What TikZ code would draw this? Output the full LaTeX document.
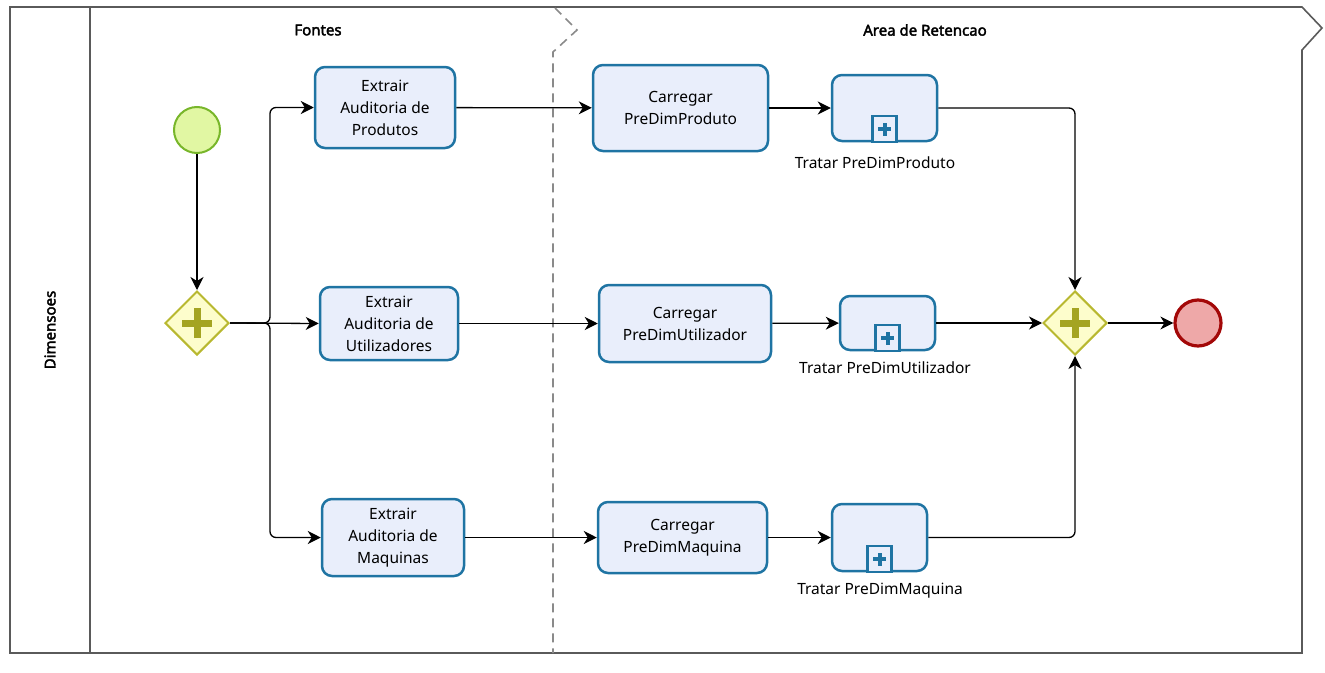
\documentclass[tikz,border=0pt]{standalone}
\usepackage{fontspec}
\setmainfont{Noto Sans}[AutoFakeBold=2.5]
\usetikzlibrary{arrows.meta,shapes.geometric}
\definecolor{taskblue}{HTML}{1F74A3}
\definecolor{taskfill}{HTML}{E9EEFB}
\definecolor{startfill}{HTML}{E1F7A3}
\definecolor{startline}{HTML}{78B62A}
\definecolor{gwfill}{HTML}{FDFDCC}
\definecolor{gwline}{HTML}{B8B830}
\definecolor{gwplus}{HTML}{A4A422}
\definecolor{endfill}{HTML}{EEA8A8}
\definecolor{endline}{HTML}{A30808}
\definecolor{poolline}{HTML}{5A5A5A}
\definecolor{laneline}{HTML}{8A8A8A}
\newcommand{\tfont}{\fontsize{15.5}{22}\selectfont}
\tikzset{
  task/.style={draw=taskblue, fill=taskfill, line width=2.5pt, rounded corners=10pt,
    align=center, font=\tfont, inner sep=0pt},
  gateway/.style={diamond, aspect=1, draw=gwline, fill=gwfill, line width=2pt,
    minimum width=64pt, minimum height=64pt, inner sep=0pt},
  startev/.style={circle, draw=startline, fill=startfill, line width=2pt,
    minimum size=46pt, inner sep=0pt},
  endev/.style={circle, draw=endline, fill=endfill, line width=3.2pt,
    minimum size=46pt, inner sep=0pt},
  flow/.style={draw=black, line width=1.3pt, rounded corners=6pt,
    -{Stealth[length=13pt,width=13pt,inset=4pt]}},
  lbl/.style={font=\tfont, inner sep=0pt},
  hdr/.style={font=\fontsize{15}{18}\selectfont\bfseries, inner sep=0pt},
  plusbar/.style={line width=7pt, gwplus},
  subbar/.style={line width=4pt, taskblue},
}
\newcommand{\gwplus}[1]{%
  \draw[plusbar] ([xshift=-15pt]#1.center) -- ([xshift=15pt]#1.center);
  \draw[plusbar] ([yshift=-15pt]#1.center) -- ([yshift=15pt]#1.center);}
\newcommand{\submark}[1]{%
  \draw[taskblue, line width=2.2pt, fill=taskfill] (#1.south) ++(-12,0) rectangle ++(24,-26);
  \draw[subbar] (#1.south) ++(-6.5,-13) -- ++(13,0);
  \draw[subbar] (#1.south) ++(0,-6.5) -- ++(0,-13);}
\begin{document}
\begin{tikzpicture}[x=1pt,y=-1pt]
\useasboundingbox (0,0) rectangle (1325,672);
% pool
\draw[poolline, line width=1.6pt, line join=miter] (10,7) -- (1302,7) -- (1322,28) -- (1302,50) -- (1302,653) -- (10,653) -- cycle;
\draw[poolline, line width=1.6pt] (90,7) -- (90,653);
\draw[laneline, line width=1.6pt, dash pattern=on 9pt off 6pt] (555,8) -- (577,30) -- (553,52) -- (553,653);
\node[hdr, rotate=90] (pooltitle) at (50,330) {Dimensoes};
\node[hdr] (lane1) at (318,30) {Fontes};
\node[hdr] (lane2) at (925,30) {Area de Retencao};
% events and gateways
\node[startev] (start) at (197,130) {};
\node[gateway] (fork) at (197,323) {};
\gwplus{fork}
\node[gateway] (join) at (1075,323) {};
\gwplus{join}
\node[endev] (end) at (1198,323) {};
% tasks
\node[task, minimum width=140pt, minimum height=81pt] (e1) at (385,107.5) {Extrair\\Auditoria de\\Produtos};
\node[task, minimum width=138pt, minimum height=73pt] (e2) at (389,323.5) {Extrair\\Auditoria de\\Utilizadores};
\node[task, minimum width=142pt, minimum height=77pt] (e3) at (393,537.5) {Extrair\\Auditoria de\\Maquinas};
\node[task, minimum width=175pt, minimum height=86pt] (c1) at (680.5,108) {Carregar\\PreDimProduto};
\node[task, minimum width=172pt, minimum height=77pt] (c2) at (685,323.5) {Carregar\\PreDimUtilizador};
\node[task, minimum width=169pt, minimum height=71pt] (c3) at (682.5,537.5) {Carregar\\PreDimMaquina};
\node[task, minimum width=105pt, minimum height=66pt] (t1) at (884.5,108) {};
\node[task, minimum width=95pt, minimum height=54pt] (t2) at (887.5,323) {};
\node[task, minimum width=95pt, minimum height=67pt] (t3) at (879.5,537.5) {};
\submark{t1}
\submark{t2}
\submark{t3}
\node[lbl] (l1) at (875,163) {Tratar PreDimProduto};
\node[lbl] (l2) at (885,368) {Tratar PreDimUtilizador};
\node[lbl] (l3) at (880,591) {Tratar PreDimMaquina};
% flows
\draw[flow] (start) -- (fork);
\coordinate (br) at (270,323);
\draw[flow] (fork.east) -- (br) |- (e1.west);
\draw[flow] (fork.east) -- (e2.west);
\draw[flow] (fork.east) -- (br) |- (e3.west);
\draw[flow] (e1) -- (c1);
\draw[flow] (e2) -- (c2);
\draw[flow] (e3) -- (c3);
\draw[flow] (c1) -- (t1);
\draw[flow] (c2) -- (t2);
\draw[flow] (c3) -- (t3);
\draw[flow] (t1.east) -| (join.north);
\draw[flow] (t2.east) -- (join.west);
\draw[flow] (t3.east) -| (join.south);
\draw[flow] (join) -- (end);
\end{tikzpicture}
\end{document}
